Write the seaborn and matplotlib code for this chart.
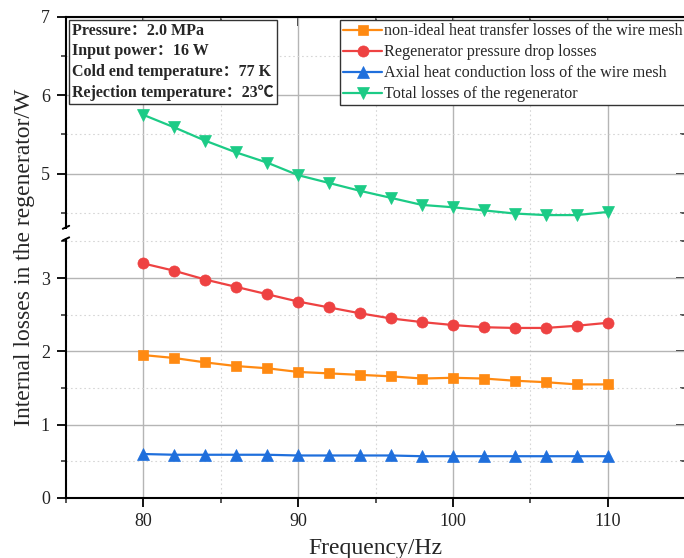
import numpy as np
import matplotlib
matplotlib.use("Agg")
import matplotlib.pyplot as plt
from matplotlib.ticker import FixedLocator, NullFormatter, FuncFormatter
from matplotlib.patches import Rectangle
import seaborn as sns

# ---- data -------------------------------------------------------------
frequency = [80, 82, 84, 86, 88, 90, 92, 94, 96, 98, 100, 102, 104, 106, 108, 110]
heat_transfer_loss = [1.95, 1.91, 1.85, 1.80, 1.77, 1.72, 1.70, 1.68, 1.66, 1.63,
                      1.64, 1.63, 1.60, 1.58, 1.55, 1.55]
pressure_drop_loss = [3.20, 3.10, 2.98, 2.88, 2.78, 2.68, 2.60, 2.52, 2.45, 2.40,
                      2.36, 2.33, 2.32, 2.32, 2.35, 2.39]
axial_conduction_loss = [0.60, 0.59, 0.59, 0.59, 0.59, 0.58, 0.58, 0.58, 0.58, 0.57,
                         0.57, 0.57, 0.57, 0.57, 0.57, 0.57]
total_loss = [5.75, 5.59, 5.42, 5.27, 5.14, 4.98, 4.88, 4.78, 4.69, 4.60,
              4.57, 4.53, 4.49, 4.47, 4.47, 4.51]

series_labels = ["non-ideal heat transfer losses of the wire mesh",
                 "Regenerator pressure drop losses",
                 "Axial heat conduction loss of the wire mesh",
                 "Total losses of the regenerator"]
series_values = [heat_transfer_loss, pressure_drop_loss, axial_conduction_loss, total_loss]
series_colors = ["#FF8A12", "#EE4242", "#1F6FDC", "#1CCB86"]
series_markers = ["s", "o", "^", "v"]

x_major = [80, 90, 100, 110]
x_minor = [75, 85, 95, 105, 115]
y_major = [0, 1, 2, 3, 5, 6, 7]
y_minor = [0.5, 1.5, 2.5, 3.5, 4.5, 5.5, 6.5]

info_lines = ["Pressure：2.0 MPa",
              "Input power：16 W",
              "Cold end temperature：77 K",
              "Rejection temperature：23℃"]

# ---- broken y axis as a piecewise-linear scale -------------------------
LO_TOP, HI_BOT = 3.55, 4.30      # values on each side of the break
GAP = 9.4 / 73.3                 # visual size of the break
K = 78.3 / 73.3                  # upper segment stretch


def fwd(y):
    y = np.asarray(y, dtype=float)
    return np.where(y <= LO_TOP, y,
                    np.where(y < HI_BOT,
                             LO_TOP + (y - LO_TOP) / (HI_BOT - LO_TOP) * GAP,
                             LO_TOP + GAP + (y - HI_BOT) * K))


def inv(u):
    u = np.asarray(u, dtype=float)
    return np.where(u <= LO_TOP, u,
                    np.where(u < LO_TOP + GAP,
                             LO_TOP + (u - LO_TOP) / GAP * (HI_BOT - LO_TOP),
                             HI_BOT + (u - LO_TOP - GAP) / K))


sns.set_style("white")
serif = ["Liberation Serif", "Noto Sans CJK SC"]
plt.rcParams["font.family"] = serif

fig = plt.figure(figsize=(6.84, 5.58), dpi=100)
ax = fig.add_axes([66 / 684, 1 - 498 / 558, 619 / 684, 481 / 558])
ax.set_yscale("function", functions=(fwd, inv))

for lab, vals, col, mk in zip(series_labels, series_values, series_colors, series_markers):
    sns.lineplot(x=frequency, y=vals, ax=ax, color=col, marker=mk, label=lab,
                 linewidth=1.6, markersize=7.5 if mk == "s" else 8,
                 markeredgecolor=col, markeredgewidth=0.5, zorder=3)

ax.set_xlim(75, 115)
ax.set_ylim(0, 7)

ax.xaxis.set_major_locator(FixedLocator(x_major))
ax.xaxis.set_minor_locator(FixedLocator(x_minor))
ax.yaxis.set_major_locator(FixedLocator(y_major))
ax.yaxis.set_minor_locator(FixedLocator(y_minor))
ax.yaxis.set_major_formatter(FuncFormatter(lambda v, p: f"{v:g}"))
ax.yaxis.set_minor_formatter(NullFormatter())

ax.grid(which="major", color="#B5B5B5", linewidth=1.0, linestyle="-", zorder=0)
ax.grid(which="minor", color="#D6D6D6", linewidth=0.8, linestyle=(0, (1.5, 2.5)), zorder=0)
ax.set_axisbelow(True)

ax.tick_params(axis="both", which="major", direction="out", length=6.5, width=1.3,
               labelsize=13, colors="black", pad=4, top=False, right=False)
ax.tick_params(axis="both", which="minor", direction="out", length=3.5, width=1.1,
               top=False, right=False)
ax.tick_params(axis="y", which="major", pad=5)
for t in ax.get_xticklabels() + ax.get_yticklabels():
    t.set_color("#222222")

for side in ["left", "bottom", "top"]:
    ax.spines[side].set_linewidth(1.5)
    ax.spines[side].set_color("black")
ax.spines["right"].set_visible(False)

ax.set_xlabel("Frequency/Hz", fontsize=17, labelpad=6)
ax.set_ylabel("Internal losses in the regenerator/W", fontsize=17, labelpad=4)

# inward ticks on the mirrored sides
ax_r = ax.twinx()
ax_r.set_yscale("function", functions=(fwd, inv))
ax_r.set_ylim(0, 7)
ax_r.yaxis.set_major_locator(FixedLocator(y_major))
ax_r.yaxis.set_minor_locator(FixedLocator(y_minor))
ax_r.tick_params(axis="y", which="major", direction="in", length=6.5, width=1.3,
                 right=True, left=False, labelright=False)
ax_r.tick_params(axis="y", which="minor", direction="in", length=3.5, width=1.1,
                 right=True, left=False)
ax_r.grid(False)
for s in ax_r.spines.values():
    s.set_visible(False)

ax_t = ax.twiny()
ax_t.set_xlim(75, 115)
ax_t.xaxis.set_major_locator(FixedLocator(x_major))
ax_t.xaxis.set_minor_locator(FixedLocator(x_minor))
ax_t.tick_params(axis="x", which="major", direction="in", length=6.5, width=1.3,
                 top=True, bottom=False, labeltop=False)
ax_t.tick_params(axis="x", which="minor", direction="in", length=3.5, width=1.1,
                 top=True, bottom=False)
ax_t.grid(False)
for s in ax_t.spines.values():
    s.set_visible(False)

# break in the left spine
ytr = ax.get_yaxis_transform()
ax.add_patch(Rectangle((-0.02, LO_TOP + 0.02), 0.04, HI_BOT - LO_TOP - 0.06,
                       transform=ytr, facecolor="white", edgecolor="none",
                       clip_on=False, zorder=5))
dx = 3.2 / 619
for yc, scale in [(LO_TOP, 73.3), (HI_BOT, 78.3)]:
    dy = 2.6 / scale
    ax.plot([-dx, dx], [yc - dy, yc + dy], transform=ytr, color="black",
            linewidth=1.4, clip_on=False, zorder=6)

# legend
leg = ax.legend(loc="upper left", bbox_to_anchor=(340 / 684, 1 - 20 / 558),
                bbox_transform=fig.transFigure, fontsize=11.6, frameon=True,
                fancybox=False, framealpha=1, edgecolor="#333333",
                borderpad=0.2, labelspacing=0.31, handlelength=2.4,
                handletextpad=0.12, borderaxespad=0)
leg.get_frame().set_linewidth(1.0)
leg.set_zorder(10)
ax_r.set_zorder(ax.get_zorder() - 1)
ax_t.set_zorder(ax.get_zorder() - 1)
ax.patch.set_visible(False)
ax_r.patch.set_visible(False)
ax_t.patch.set_visible(False)

# operating conditions box
fig.text(72 / 684, 1 - 23 / 558, "\n".join(info_lines), ha="left", va="top",
         fontsize=11.5, fontweight="bold", family=serif, linespacing=1.37,
         bbox=dict(boxstyle="square,pad=0.2", facecolor="white",
                   edgecolor="#333333", linewidth=1.0), zorder=20)

fig.savefig("out.png", dpi=100, facecolor="white")
